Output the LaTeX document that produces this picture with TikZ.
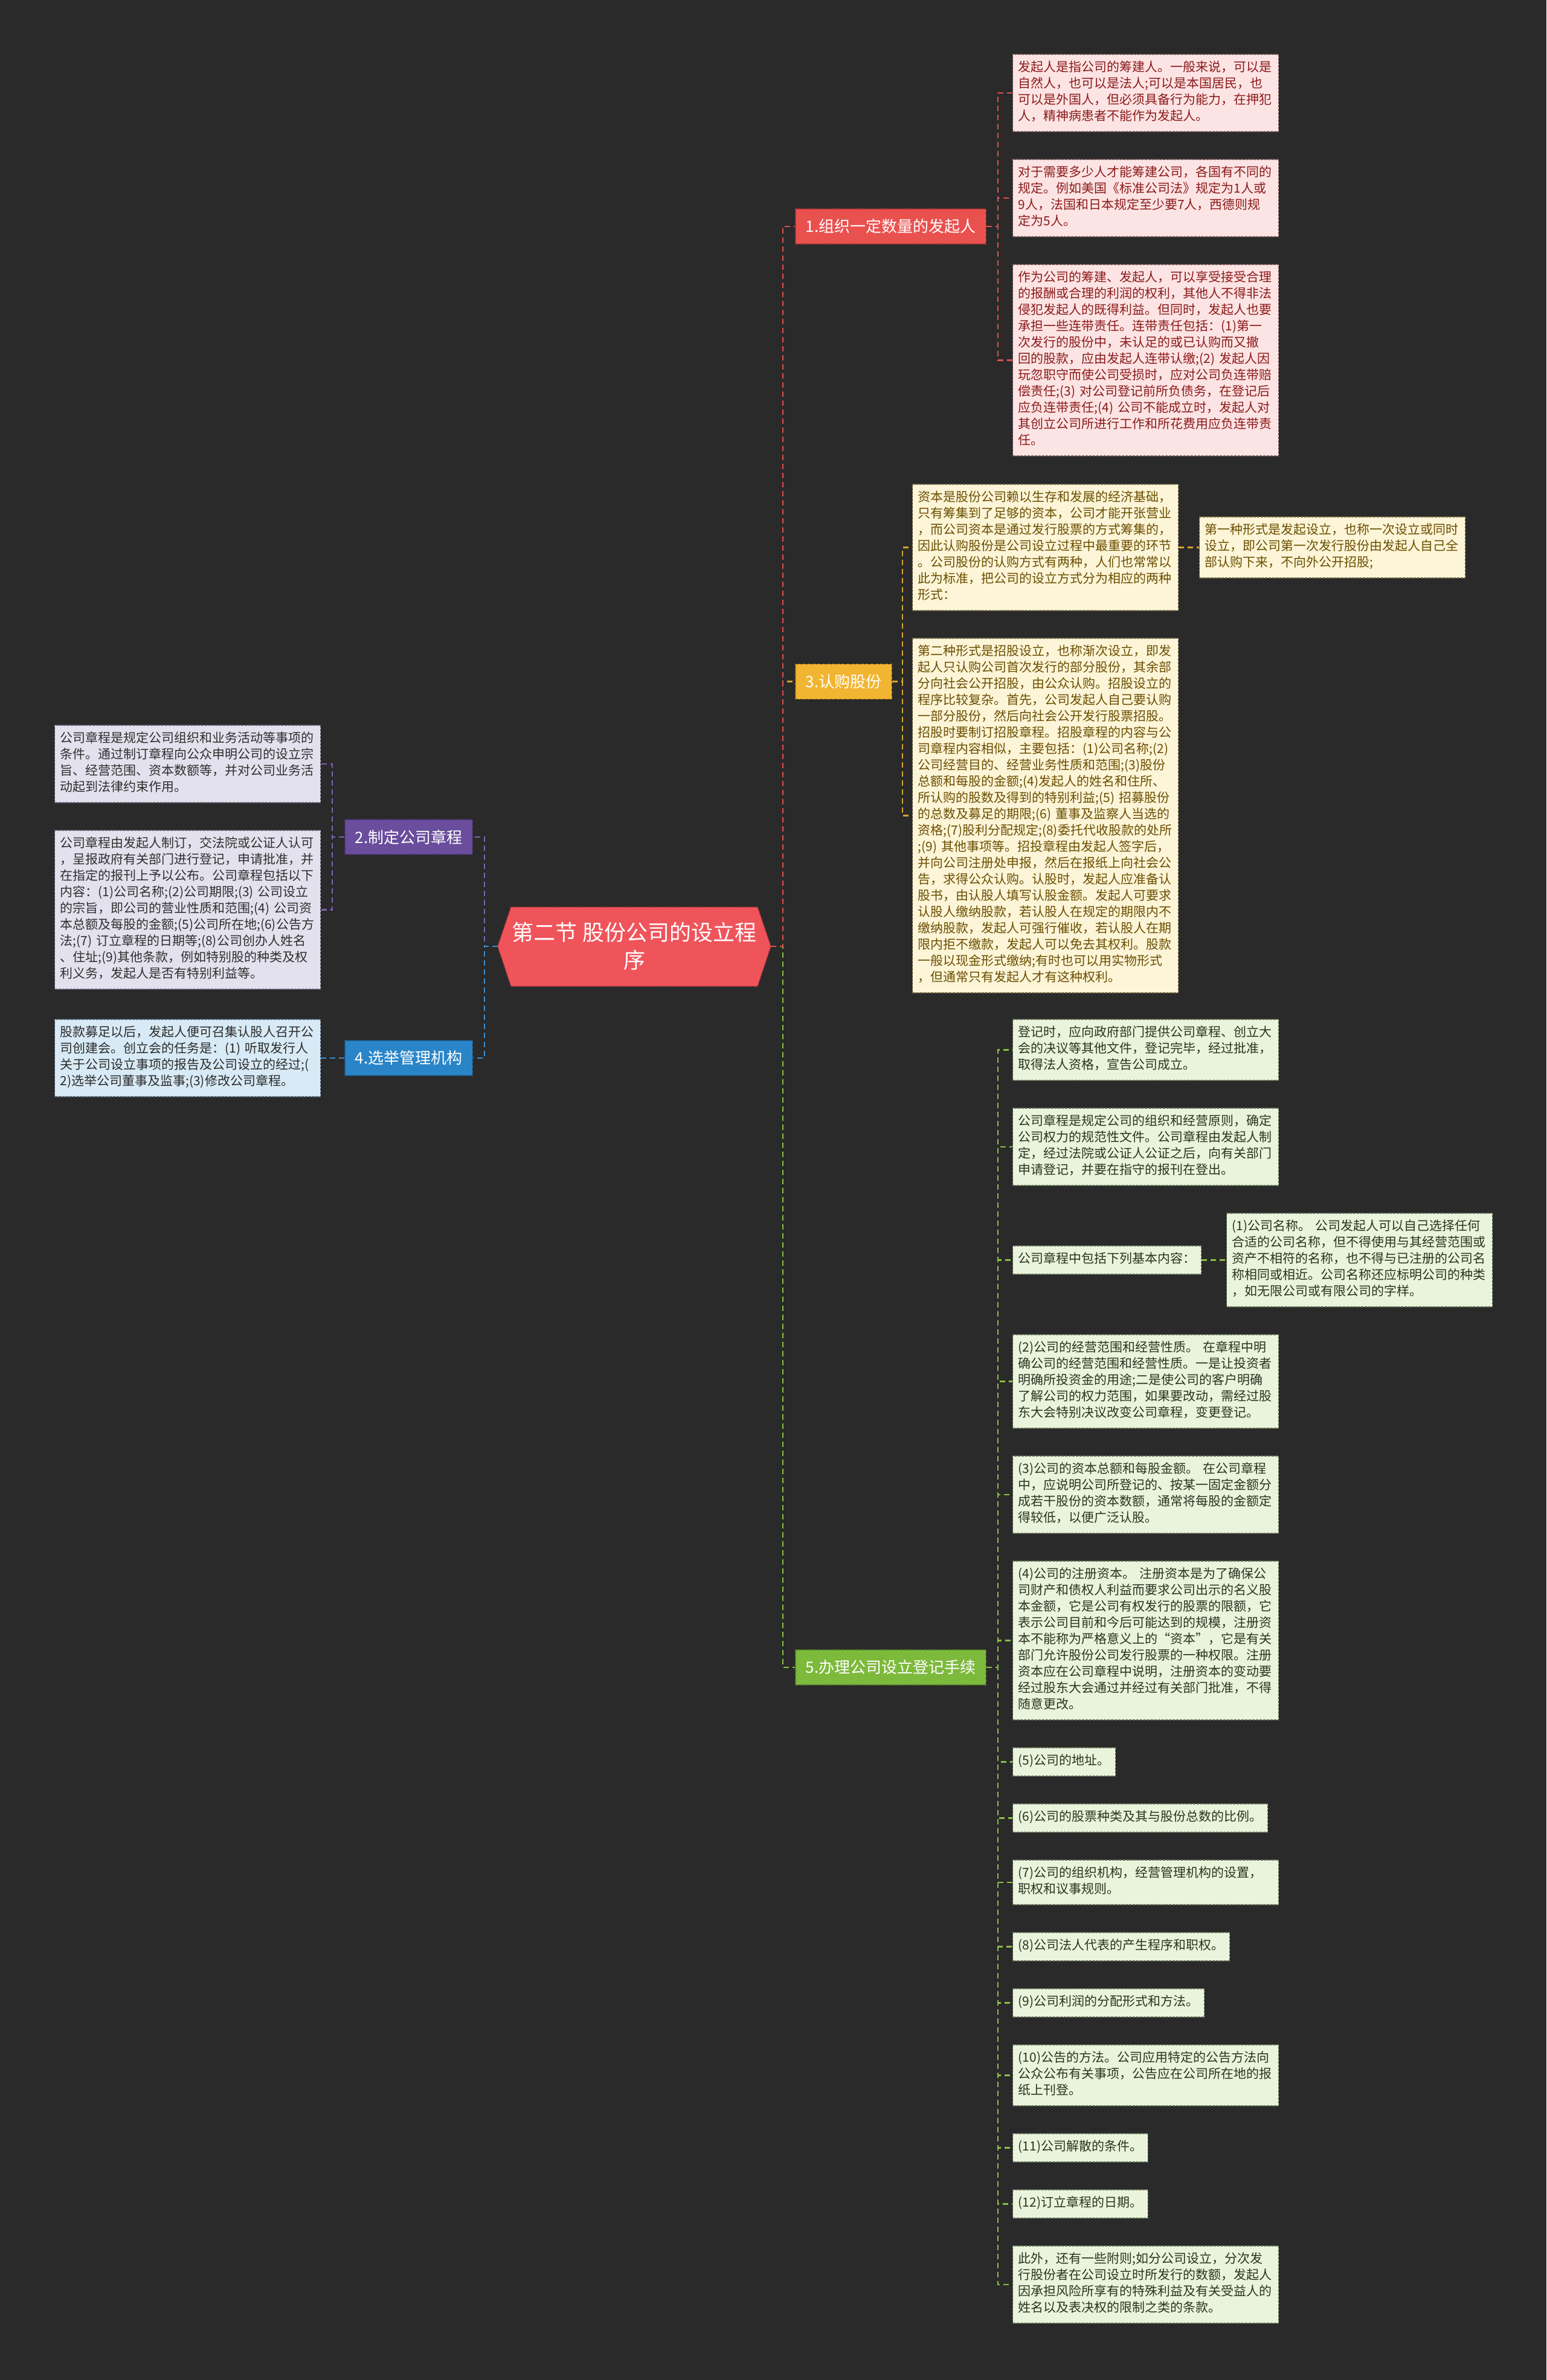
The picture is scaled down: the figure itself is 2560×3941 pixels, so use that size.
\documentclass[tikz,border=0pt]{standalone}
\usepackage{fontspec}
\setmainfont{Noto Sans CJK SC}
\setlength{\parindent}{0pt}
\definecolor{bgcol}{HTML}{2A2A2A}
\definecolor{rootfill}{HTML}{F0545B}
\definecolor{rootdraw}{HTML}{B83A40}
\definecolor{bAfill}{HTML}{E9514F}
\definecolor{bAdraw}{HTML}{A83434}
\definecolor{bCfill}{HTML}{F2B531}
\definecolor{bCdraw}{HTML}{A87A14}
\definecolor{bEfill}{HTML}{7DBA3C}
\definecolor{bEdraw}{HTML}{52802A}
\definecolor{bBfill}{HTML}{6A4D9C}
\definecolor{bBdraw}{HTML}{45326A}
\definecolor{bDfill}{HTML}{2A85C8}
\definecolor{bDdraw}{HTML}{1B5A8A}
\definecolor{pinkfill}{HTML}{FDE4E4}
\definecolor{pinkdraw}{HTML}{7A5A5A}
\definecolor{redtext}{HTML}{8B1A1A}
\definecolor{yelfill}{HTML}{FDF5D8}
\definecolor{yeldraw}{HTML}{7E704A}
\definecolor{yeltext}{HTML}{6B4E00}
\definecolor{grnfill}{HTML}{EAF3DB}
\definecolor{grndraw}{HTML}{66735A}
\definecolor{grntext}{HTML}{2B3322}
\definecolor{purfill}{HTML}{E4E1EE}
\definecolor{purdraw}{HTML}{6A6678}
\definecolor{purtext}{HTML}{2E2E2E}
\definecolor{blufill}{HTML}{D8EAF6}
\definecolor{bludraw}{HTML}{5A6878}
\definecolor{blutext}{HTML}{2B2B2B}
\definecolor{redcon}{HTML}{E0504F}
\definecolor{yelcon}{HTML}{D9A52E}
\definecolor{grncon}{HTML}{8BBF44}
\definecolor{purcon}{HTML}{7F63B0}
\definecolor{blucon}{HTML}{3A8ED0}
\begin{document}
\begin{tikzpicture}[x=1pt,y=-1pt,
  leaf/.style={draw, dash pattern=on 4pt off 2pt, line width=1.3pt, inner xsep=9pt, inner ysep=10pt,
    anchor=west, align=left, font=\fontsize{21}{27}\selectfont,
    execute at begin node=\strut, execute at end node=\strut},
  wide/.style={text width=422pt},
  redleaf/.style={leaf, fill=pinkfill, draw=pinkdraw, text=redtext},
  yelleaf/.style={leaf, fill=yelfill, draw=yeldraw, text=yeltext},
  grnleaf/.style={leaf, fill=grnfill, draw=grndraw, text=grntext},
  purleaf/.style={leaf, fill=purfill, draw=purdraw, text=purtext},
  bluleaf/.style={leaf, fill=blufill, draw=bludraw, text=blutext},
  branch/.style={draw, dash pattern=on 5pt off 3pt, line width=1.5pt, anchor=west,
    inner xsep=17pt, inner ysep=0pt, minimum height=58pt, text=white,
    font=\fontsize{26}{30}\selectfont},
  conn/.style={dash pattern=on 9pt off 6pt, line width=2.5pt},
  roottext/.style={text=white, align=center, font=\fontsize{36}{46}\selectfont,
    minimum width=452pt, minimum height=131pt, inner sep=0pt}
]
\fill[bgcol] (0,0) rectangle (2560,3941);
\useasboundingbox (0,0) rectangle (2560,3941);

% root
\filldraw[fill=rootfill, draw=rootdraw, line width=1.5pt, dash pattern=on 5pt off 3pt]
  (824,1567) -- (846,1502) -- (1254,1502) -- (1276,1567) -- (1254,1633) -- (846,1633) -- cycle;
\node[roottext] (root) at (1050,1567) {第二节 股份公司的设立程\\序};

% branches
\node[branch, fill=bAfill, draw=bAdraw] (bA) at (1316,375) {1.组织一定数量的发起人};
\node[branch, fill=bCfill, draw=bCdraw] (bC) at (1316,1128.5) {3.认购股份};
\node[branch, fill=bEfill, draw=bEdraw] (bE) at (1316,2761) {5.办理公司设立登记手续};
\node[branch, fill=bBfill, draw=bBdraw] (bB) at (570,1386) {2.制定公司章程};
\node[branch, fill=bDfill, draw=bDdraw] (bD) at (570,1752) {4.选举管理机构};

% red leaves
\node[redleaf, wide] (r1) at (1676,154) {发起人是指公司的筹建人。一般来说，可以是\\自然人，也可以是法人;可以是本国居民，也\\可以是外国人，但必须具备行为能力，在押犯\\人，精神病患者不能作为发起人。};
\node[redleaf, wide] (r2) at (1676,328) {对于需要多少人才能筹建公司，各国有不同的\\规定。例如美国《标准公司法》规定为1人或\\9人，法国和日本规定至少要7人，西德则规\\定为5人。};
\node[redleaf, wide] (r3) at (1676,596.5) {作为公司的筹建、发起人，可以享受接受合理\\的报酬或合理的利润的权利，其他人不得非法\\侵犯发起人的既得利益。但同时，发起人也要\\承担一些连带责任。连带责任包括：(1)第一\\次发行的股份中，未认足的或已认购而又撤\\回的股款，应由发起人连带认缴;(2) 发起人因\\玩忽职守而使公司受损时，应对公司负连带赔\\偿责任;(3) 对公司登记前所负债务，在登记后\\应负连带责任;(4) 公司不能成立时，发起人对\\其创立公司所进行工作和所花费用应负连带责\\任。};

% yellow leaves
\node[yelleaf, wide] (y1) at (1510,906.5) {资本是股份公司赖以生存和发展的经济基础，\\只有筹集到了足够的资本，公司才能开张营业\\，而公司资本是通过发行股票的方式筹集的，\\因此认购股份是公司设立过程中最重要的环节\\。公司股份的认购方式有两种，人们也常常以\\此为标准，把公司的设立方式分为相应的两种\\形式：};
\node[yelleaf, wide] (y1a) at (1985,906.5) {第一种形式是发起设立，也称一次设立或同时\\设立，即公司第一次发行股份由发起人自己全\\部认购下来，不向外公开招股;};
\node[yelleaf, wide] (y2) at (1510,1350.5) {第二种形式是招股设立，也称渐次设立，即发\\起人只认购公司首次发行的部分股份，其余部\\分向社会公开招股，由公众认购。招股设立的\\程序比较复杂。首先，公司发起人自己要认购\\一部分股份，然后向社会公开发行股票招股。\\招股时要制订招股章程。招股章程的内容与公\\司章程内容相似，主要包括：(1)公司名称;(2)\\公司经营目的、经营业务性质和范围;(3)股份\\总额和每股的金额;(4)发起人的姓名和住所、\\所认购的股数及得到的特别利益;(5) 招募股份\\的总数及募足的期限;(6) 董事及监察人当选的\\资格;(7)股利分配规定;(8)委托代收股款的处所\\;(9) 其他事项等。招投章程由发起人签字后，\\并向公司注册处申报，然后在报纸上向社会公\\告，求得公众认购。认股时，发起人应准备认\\股书，由认股人填写认股金额。发起人可要求\\认股人缴纳股款，若认股人在规定的期限内不\\缴纳股款，发起人可强行催收，若认股人在期\\限内拒不缴款，发起人可以免去其权利。股款\\一般以现金形式缴纳;有时也可以用实物形式\\，但通常只有发起人才有这种权利。};

% green leaves
\node[grnleaf, wide] (g1) at (1676,1738.5) {登记时，应向政府部门提供公司章程、创立大\\会的决议等其他文件，登记完毕，经过批准，\\取得法人资格，宣告公司成立。};
\node[grnleaf, wide] (g2) at (1676,1899) {公司章程是规定公司的组织和经营原则，确定\\公司权力的规范性文件。公司章程由发起人制\\定，经过法院或公证人公证之后，向有关部门\\申请登记，并要在指守的报刊在登出。};
\node[grnleaf] (g3) at (1676,2086.5) {公司章程中包括下列基本内容：};
\node[grnleaf, wide] (g3a) at (2030,2086.5) {(1)公司名称。 公司发起人可以自己选择任何\\合适的公司名称，但不得使用与其经营范围或\\资产不相符的名称，也不得与已注册的公司名\\称相同或相近。公司名称还应标明公司的种类\\，如无限公司或有限公司的字样。};
\node[grnleaf, wide] (g4) at (1676,2287.5) {(2)公司的经营范围和经营性质。 在章程中明\\确公司的经营范围和经营性质。一是让投资者\\明确所投资金的用途;二是使公司的客户明确\\了解公司的权力范围，如果要改动，需经过股\\东大会特别决议改变公司章程，变更登记。};
\node[grnleaf, wide] (g5) at (1676,2475) {(3)公司的资本总额和每股金额。 在公司章程\\中，应说明公司所登记的、按某一固定金额分\\成若干股份的资本数额，通常将每股的金额定\\得较低，以便广泛认股。};
\node[grnleaf, wide] (g6) at (1676,2716.5) {(4)公司的注册资本。 注册资本是为了确保公\\司财产和债权人利益而要求公司出示的名义股\\本金额，它是公司有权发行的股票的限额，它\\表示公司目前和今后可能达到的规模，注册资\\本不能称为严格意义上的“资本”，它是有关\\部门允许股份公司发行股票的一种权限。注册\\资本应在公司章程中说明，注册资本的变动要\\经过股东大会通过并经过有关部门批准，不得\\随意更改。};
\node[grnleaf] (g7) at (1676,2917.5) {(5)公司的地址。};
\node[grnleaf] (g8) at (1676,3010.5) {(6)公司的股票种类及其与股份总数的比例。};
\node[grnleaf, wide] (g9) at (1676,3117) {(7)公司的组织机构，经营管理机构的设置，\\职权和议事规则。};
\node[grnleaf] (g10) at (1676,3223.5) {(8)公司法人代表的产生程序和职权。};
\node[grnleaf] (g11) at (1676,3316.5) {(9)公司利润的分配形式和方法。};
\node[grnleaf, wide] (g12) at (1676,3436.5) {(10)公告的方法。公司应用特定的公告方法向\\公众公布有关事项，公告应在公司所在地的报\\纸上刊登。};
\node[grnleaf] (g13) at (1676,3556.5) {(11)公司解散的条件。};
\node[grnleaf] (g14) at (1676,3649.5) {(12)订立章程的日期。};
\node[grnleaf, wide] (g15) at (1676,3783) {此外，还有一些附则;如分公司设立，分次发\\行股份者在公司设立时所发行的数额，发起人\\因承担风险所享有的特殊利益及有关受益人的\\姓名以及表决权的限制之类的条款。};

% left leaves
\node[purleaf, wide] (p1) at (90,1265) {公司章程是规定公司组织和业务活动等事项的\\条件。通过制订章程向公众申明公司的设立宗\\旨、经营范围、资本数额等，并对公司业务活\\动起到法律约束作用。};
\node[purleaf, wide] (p2) at (90,1506.5) {公司章程由发起人制订，交法院或公证人认可\\，呈报政府有关部门进行登记，申请批准，并\\在指定的报刊上予以公布。公司章程包括以下\\内容：(1)公司名称;(2)公司期限;(3) 公司设立\\的宗旨，即公司的营业性质和范围;(4) 公司资\\本总额及每股的金额;(5)公司所在地;(6)公告方\\法;(7) 订立章程的日期等;(8)公司创办人姓名\\、住址;(9)其他条款，例如特别股的种类及权\\利义务，发起人是否有特别利益等。};
\node[bluleaf, wide] (q1) at (90,1752) {股款募足以后，发起人便可召集认股人召开公\\司创建会。创立会的任务是：(1) 听取发行人\\关于公司设立事项的报告及公司设立的经过;(\\2)选举公司董事及监事;(3)修改公司章程。};

% connectors root -> branches
\draw[conn, draw=grncon] (root.east) -- ++(20,0) |- (bE.west);
\draw[conn, draw=yelcon] (root.east) -- ++(20,0) |- (bC.west);
\draw[conn, draw=redcon] (root.east) -- ++(20,0) |- (bA.west);
\draw[conn, draw=purcon] (root.west) -- ++(-22,0) |- (bB.west -| bB.east);
\draw[conn, draw=blucon] (root.west) -- ++(-22,0) |- (bD.east);

% red
\foreach \n in {r1,r2,r3}{\draw[conn, draw=redcon] (bA.east) -- ++(19,0) |- (\n.west);}
% yellow
\foreach \n in {y1,y2}{\draw[conn, draw=yelcon] (bC.east) -- ++(17,0) |- (\n.west);}
\draw[conn, draw=yelcon] (y1.east) -- (y1a.west);
% green
\foreach \n in {g1,g2,g3,g4,g5,g6,g7,g8,g9,g10,g11,g12,g13,g14,g15}{\draw[conn, draw=grncon] (bE.east) -- ++(19,0) |- (\n.west);}
\draw[conn, draw=grncon] (g3.east) -- (g3a.west);
% left
\foreach \n in {p1,p2}{\draw[conn, draw=purcon] (bB.west) -- ++(-20,0) |- (\n.east);}
\draw[conn, draw=blucon] (bD.west) -- (q1.east);
\end{tikzpicture}
\end{document}
